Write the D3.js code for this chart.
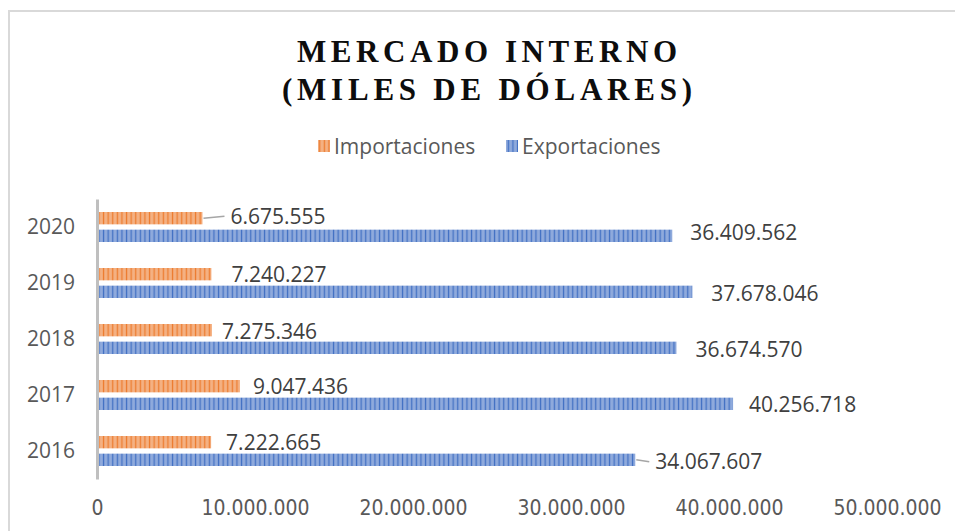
<!DOCTYPE html>
<html>
<head>
<meta charset="utf-8">
<script src="https://cdn.jsdelivr.net/npm/d3@7"></script>
<style>
  body { margin: 0; background: #fff; }
  svg { display: block; }
</style>
</head>
<body>
<div class="main"></div>
<script>
// Données du graphique (miles de dólares)
const years = ["2016", "2017", "2018", "2019", "2020"];
const importaciones = [7222665, 9047436, 7275346, 7240227, 6675555];
const exportaciones = [34067607, 40256718, 36674570, 37678046, 36409562];
const seriesNames = ["Importaciones", "Exportaciones"];
const xTicks = [0, 10000000, 20000000, 30000000, 40000000, 50000000];

// décalages des étiquettes (déplacées à la main dans l'original)
const impLabelShift = [[15, 0], [13, 0], [10, 1], [20, 0], [28, -2]];
const expLabelShift = [[20, 2], [16, 1], [19, 2], [19, 2], [18, -3]];
// étiquettes reliées à leur barre par un trait
const leaders = [["Importaciones", "2020"], ["Exportaciones", "2016"]];

const W = 955, H = 531;
const fmt = v => d3.format(",")(v).replace(/,/g, ".");

const svg = d3.select(".main")
  .append("svg")
    .attr("width", W)
    .attr("height", H);

// motifs rayés
const defs = svg.append("defs");
function stripes(id, light, dark) {
  const p = defs.append("pattern")
    .attr("id", id)
    .attr("patternUnits", "userSpaceOnUse")
    .attr("width", 4.6)
    .attr("height", 10);
  p.append("rect").attr("width", 4.6).attr("height", 10).attr("fill", light);
  p.append("rect").attr("x", 1.7).attr("width", 1.3).attr("height", 10).attr("fill", dark);
}
stripes("pImp", "#f4b183", "#ed7d31");
stripes("pExp", "#8faadc", "#4472c4");
const fills = { Importaciones: "url(#pImp)", Exportaciones: "url(#pExp)" };

// cadre
svg.append("path")
  .attr("d", "M9,531 V11 H955")
  .attr("fill", "none")
  .attr("stroke", "#d9d9d9")
  .attr("stroke-width", 2);

// titre
const title = svg.append("g")
  .attr("font-family", "'Liberation Serif', 'Times New Roman', serif")
  .attr("font-weight", "bold")
  .attr("font-size", 31)
  .attr("fill", "#0d0d0d")
  .attr("text-anchor", "middle");
title.append("text").attr("x", 487).attr("y", 62)
  .attr("textLength", 380).attr("lengthAdjust", "spacing")
  .text("MERCADO INTERNO");
title.append("text").attr("x", 487).attr("y", 100)
  .attr("textLength", 410).attr("lengthAdjust", "spacing")
  .text("(MILES DE DÓLARES)");

// échelles
const x = d3.scaleLinear()
  .domain([0, 50000000])
  .range([97, 887]);

const y = d3.scaleBand()
  .domain(years.slice().reverse())
  .range([199, 479]);

const y1 = d3.scaleBand()
  .domain(seriesNames)
  .range([13, 43])
  .paddingInner(0.3);

// axe x (seulement les étiquettes)
const xAxis = svg.append("g")
  .attr("transform", "translate(0,479)")
  .call(d3.axisBottom(x).tickValues(xTicks).tickFormat(fmt).tickSize(0).tickPadding(21));
xAxis.select(".domain").remove();
xAxis.selectAll("text")
  .attr("font-family", "'Liberation Sans Narrow', 'DejaVu Sans Condensed', 'Roboto Condensed', sans-serif")
  .attr("font-size", 21)
  .attr("fill", "#595959");

// barres
const rows = years.map((yr, i) => ({
  year: yr,
  values: [
    { key: "Importaciones", year: yr, value: importaciones[i], shift: impLabelShift[i] },
    { key: "Exportaciones", year: yr, value: exportaciones[i], shift: expLabelShift[i] }
  ]
}));

const groups = svg.selectAll(".year")
  .data(rows)
  .join("g")
    .attr("class", "year")
    .attr("transform", d => "translate(0," + y(d.year) + ")");

groups.selectAll("rect")
  .data(d => d.values)
  .join("rect")
    .attr("x", x(0) + 1)
    .attr("y", d => y1(d.key))
    .attr("width", d => x(d.value) - x(0) - 1)
    .attr("height", y1.bandwidth())
    .attr("fill", d => fills[d.key]);

// lignes de rappel
groups.selectAll("line.leader")
  .data(d => d.values.filter(v => leaders.some(l => l[0] === v.key && l[1] === v.year)))
  .join("line")
    .attr("class", "leader")
    .attr("x1", d => x(d.value) + 1)
    .attr("x2", d => x(d.value) + d.shift[0] - 6)
    .attr("y1", d => y1(d.key) + y1.bandwidth() / 2)
    .attr("y2", d => y1(d.key) + y1.bandwidth() / 2 + d.shift[1])
    .attr("stroke", "#a6a6a6")
    .attr("stroke-width", 1.5);

// étiquettes des valeurs
groups.selectAll("text.val")
  .data(d => d.values)
  .join("text")
    .attr("class", "val")
    .attr("x", d => x(d.value) + d.shift[0])
    .attr("y", d => y1(d.key) + y1.bandwidth() / 2 + d.shift[1])
    .attr("dy", "0.36em")
    .attr("font-family", "'Open Sans', 'Noto Sans', sans-serif")
    .attr("font-size", 21)
    .attr("fill", "#404040")
    .text(d => fmt(d.value));

// axe y
const yAxis = svg.append("g")
  .attr("transform", "translate(97,0)")
  .call(d3.axisLeft(y).tickSize(0).tickPadding(22));
yAxis.select(".domain")
  .attr("stroke", "#bfbfbf")
  .attr("stroke-width", 3);
yAxis.selectAll("text")
  .attr("font-family", "'Open Sans', 'Noto Sans', sans-serif")
  .attr("font-size", 21)
  .attr("fill", "#595959");

// légende
const legend = svg.append("g")
  .attr("font-family", "'Open Sans', 'Noto Sans', sans-serif")
  .attr("font-size", 21)
  .attr("fill", "#595959");
const legendX = [318, 506];
seriesNames.forEach((name, i) => {
  legend.append("rect")
    .attr("x", legendX[i]).attr("y", 140)
    .attr("width", 12).attr("height", 12)
    .attr("fill", fills[name]);
  legend.append("text")
    .attr("x", legendX[i] + 16).attr("y", 146)
    .attr("dy", "0.36em")
    .text(name);
});
</script>
</body>
</html>
